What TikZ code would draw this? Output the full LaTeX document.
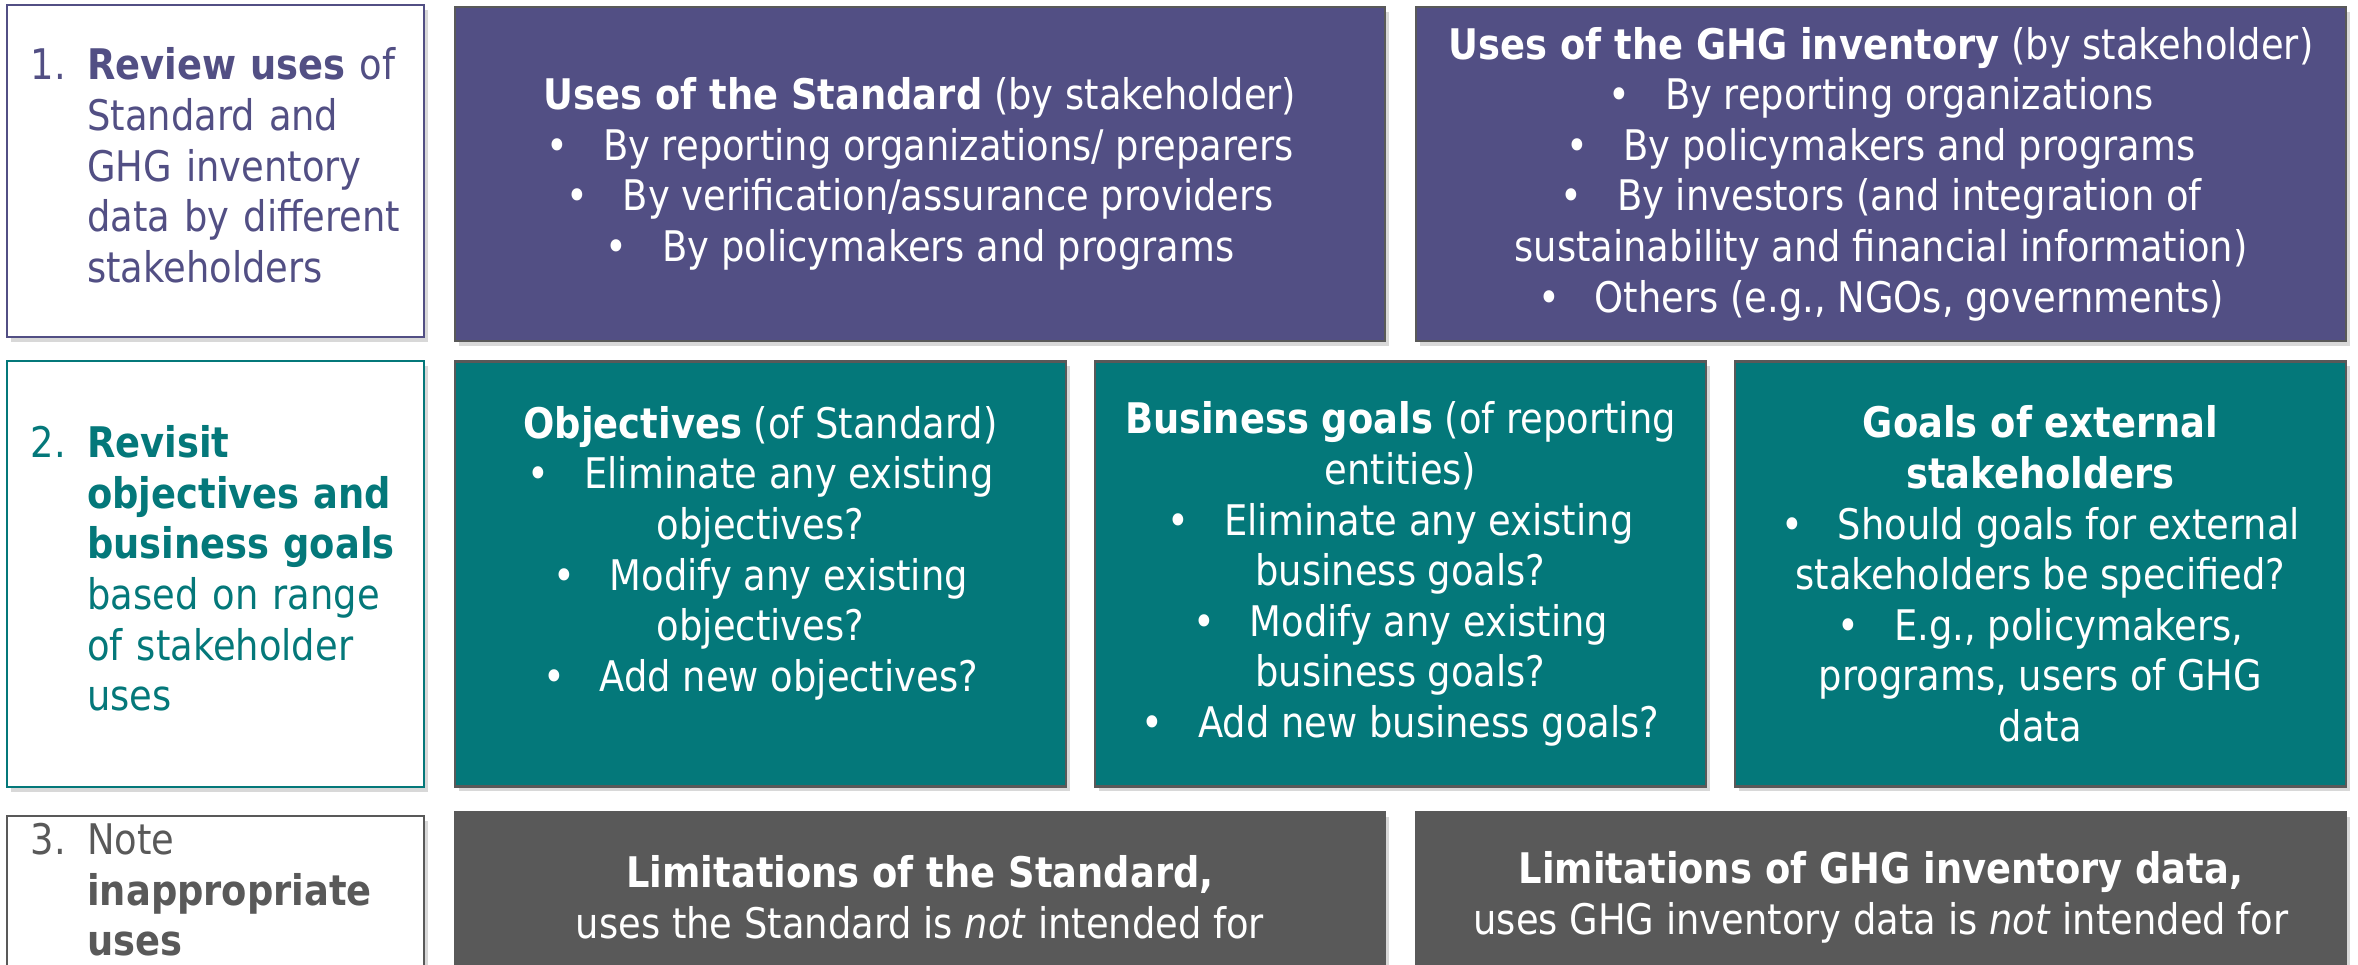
\documentclass[tikz,border=0pt]{standalone}
\usepackage{fontspec}
\setmainfont[FakeStretch=0.874]{DejaVu Sans}
\usetikzlibrary{shadows}
\usetikzlibrary{positioning}
\definecolor{ghgpurple}{RGB}{82,79,132}
\definecolor{ghgteal}{RGB}{4,120,122}
\definecolor{ghggray}{RGB}{89,89,89}
\tikzset{block/.style={draw=black!65, line width=0.6pt, text=white, align=center, inner sep=0pt, font=\fontsize{12}{14.4}\selectfont, drop shadow={opacity=0.3,shadow xshift=0.04cm,shadow yshift=-0.05cm}}}
\tikzset{stepbox/.style={draw, line width=0.6pt, fill=white, align=left, text width=3.69cm, inner xsep=0.24cm, inner ysep=0pt, font=\fontsize{12}{14.4}\selectfont, drop shadow={opacity=0.3,shadow xshift=0.04cm,shadow yshift=-0.05cm}}}
\newcommand{\bul}{•\hspace{0.35cm}}

\begin{document}
\begin{tikzpicture}

\useasboundingbox (-11.79,-4.825) rectangle (11.79,4.825);
\node[minimum height=9.65cm,minimum width=23.58cm, fill=white, inner sep=0pt] (bloc) at (0,0) { };

%review uses
\node[stepbox, draw=ghgpurple, text=ghgpurple, minimum height=3.32cm] (review) at([xshift=-9.635cm,yshift=3.115cm]bloc) {\begin{tabular}{@{}l@{ }l@{}}1.&\textbf{Review uses} of\\&Standard and\\&GHG inventory\\&data by different\\&stakeholders\end{tabular}};
\node[block, fill=ghgpurple, minimum height=3.34cm, minimum width=9.3cm] (usestd) at([xshift=7.045cm,yshift=-0.03cm]review) {\textbf{Uses of the Standard} (by stakeholder)\\ \bul By reporting organizations/ preparers\\ \bul By verification/assurance providers\\ \bul By policymakers and programs};
\node[block, fill=ghgpurple, minimum height=3.34cm, minimum width=9.3cm] (useghg) at([xshift=9.61cm]usestd) {\textbf{Uses of the GHG inventory} (by stakeholder)\\ \bul By reporting organizations\\ \bul By policymakers and programs\\ \bul By investors (and integration of\\ sustainability and financial information)\\ \bul Others (e.g., NGOs, governments)};

%revisit objectives
\node[stepbox, draw=ghgteal, text=ghgteal, minimum height=4.26cm] (revisit) at([xshift=-9.635cm,yshift=-0.915cm]bloc) {\begin{tabular}{@{}l@{ }l@{}}2.&\textbf{Revisit}\\&\textbf{objectives and}\\&\textbf{business goals}\\&based on range\\&of stakeholder\\&uses\end{tabular}};
\node[block, fill=ghgteal, minimum height=4.25cm, minimum width=6.11cm] (objectives) at([xshift=5.45cm]revisit) {\textbf{Objectives} (of Standard)\\ \bul Eliminate any existing\\ objectives?\\ \bul Modify any existing\\ objectives?\\ \bul Add new objectives?\\ \mbox{}};
\node[block, fill=ghgteal, minimum height=4.25cm, minimum width=6.11cm] (busgoals) at([xshift=6.4cm]objectives) {\textbf{Business goals} (of reporting\\ entities)\\ \bul Eliminate any existing\\ business goals?\\ \bul Modify any existing\\ business goals?\\ \bul Add new business goals?};
\node[block, fill=ghgteal, minimum height=4.25cm, minimum width=6.11cm] (extgoals) at([xshift=6.4cm]busgoals) {\textbf{Goals of external}\\ \textbf{stakeholders}\\ \bul Should goals for external\\ stakeholders be specified?\\ \bul E.g., policymakers,\\ programs, users of GHG\\ data};

%inappropriate uses
\node[stepbox, draw=ghggray, text=ghggray, minimum height=1.58cm] (inapp) at([xshift=-9.635cm,yshift=-4.125cm]bloc) {\begin{tabular}{@{}l@{ }l@{}}3.&Note\\&\textbf{inappropriate}\\&\textbf{uses}\end{tabular}};
\node[block, fill=ghggray, minimum height=1.71cm, minimum width=9.3cm] (limstd) at([xshift=7.045cm,yshift=-0.025cm]inapp) {\textbf{Limitations of the Standard,}\\ uses the Standard is \textit{not} intended for};
\node[block, fill=ghggray, minimum height=1.71cm, minimum width=9.3cm] (limghg) at([xshift=9.61cm]limstd) {\textbf{Limitations of GHG inventory data,}\\ uses GHG inventory data is \textit{not} intended for};

\end{tikzpicture}
\end{document}
